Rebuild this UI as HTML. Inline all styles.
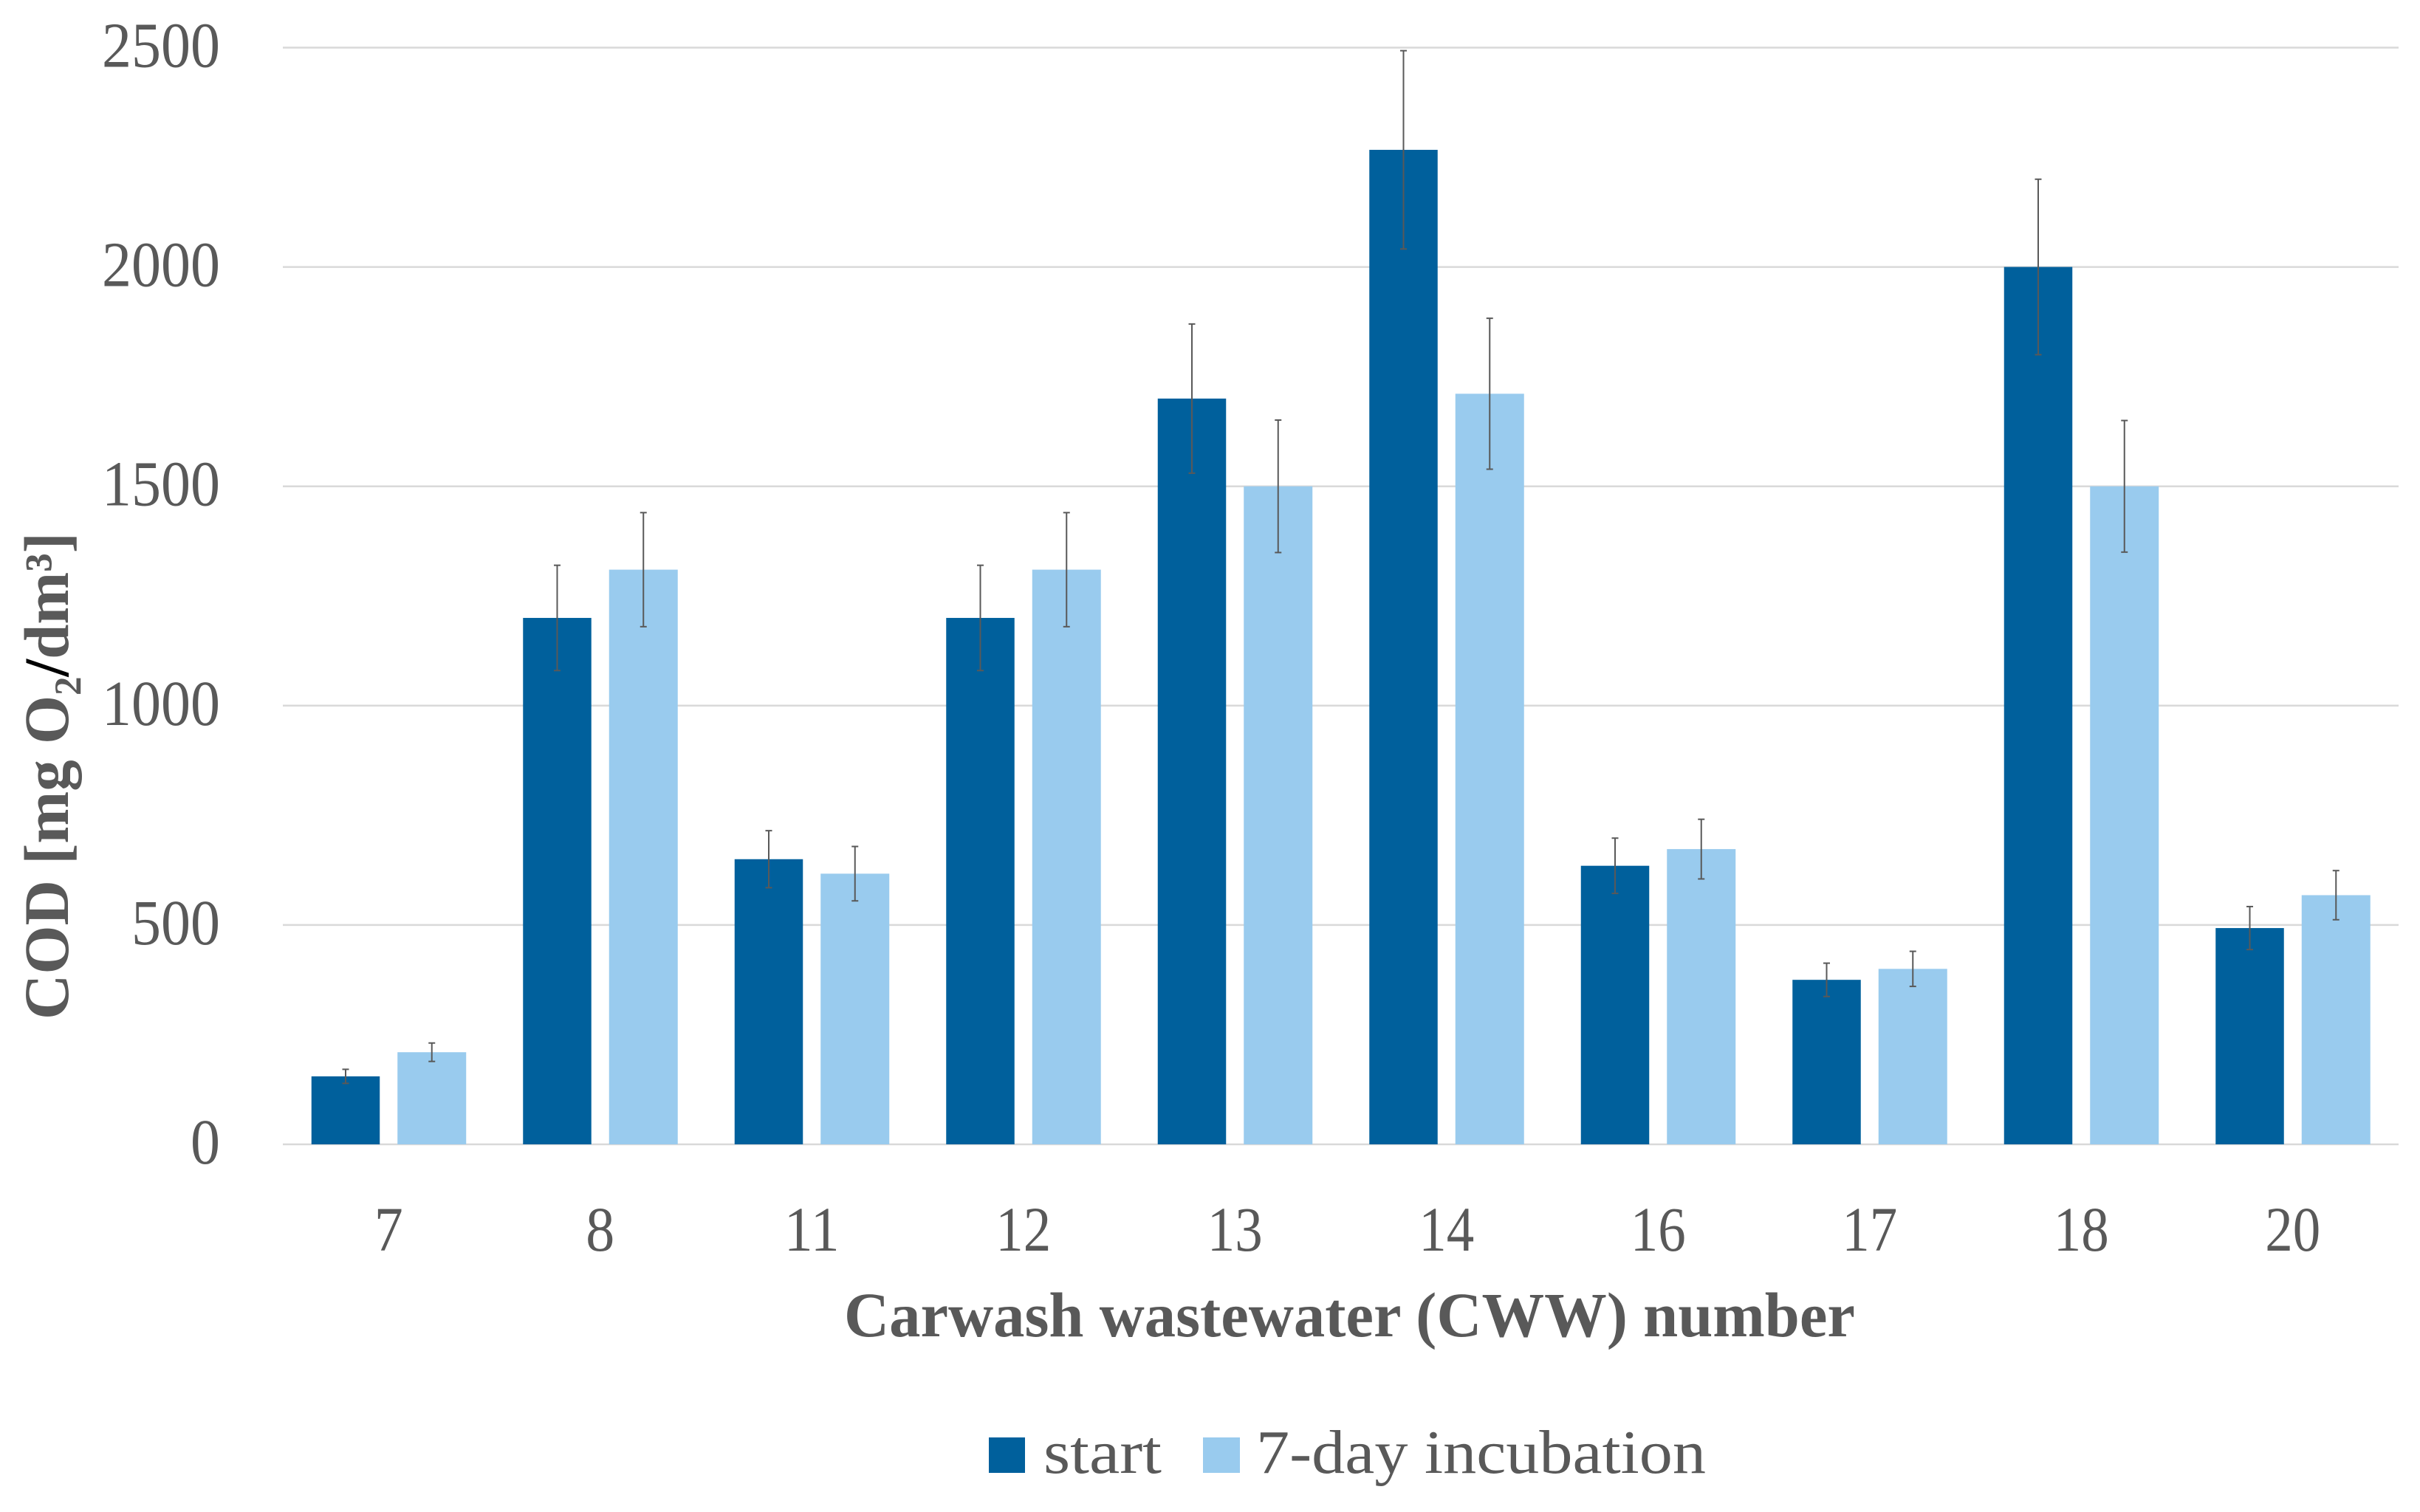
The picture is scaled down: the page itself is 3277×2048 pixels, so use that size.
<!DOCTYPE html>
<html lang="en">
<head>
<meta charset="utf-8">
<title>COD of carwash wastewater</title>
<style>
html,body{margin:0;padding:0;background:#fff;}
svg{display:block;}
text{font-family:"Liberation Serif","DejaVu Serif",serif;fill:#595959;}
</style>
</head>
<body>
<svg id="chart" xmlns="http://www.w3.org/2000/svg" width="3277" height="2048" viewBox="0 0 3277 2048">
  <rect x="0" y="0" width="3277" height="2048" fill="#ffffff"/>
  <g id="gridlines"></g>
  <g id="y-ticks"></g>
  <g id="x-ticks"></g>
  <g id="bars"></g>
  <g id="errors"></g>
  <text transform="translate(92 1381) rotate(-90)" font-size="86" font-weight="bold" textLength="660" lengthAdjust="spacingAndGlyphs">COD [mg O₂<tspan style="fill:#000000">/</tspan>dm³]</text>
  <text x="1143" y="1810" font-size="86" font-weight="bold" textLength="1369" lengthAdjust="spacingAndGlyphs">Carwash wastewater (CWW) number</text>
  <g>
    <rect x="1339" y="1947" width="49" height="48" fill="#00609C"/>
    <text x="1413" y="1995" font-size="84" textLength="160" lengthAdjust="spacingAndGlyphs">start</text>
    <rect x="1629" y="1947" width="50" height="48" fill="#99CBEE"/>
    <text x="1701" y="1995" font-size="84" textLength="609" lengthAdjust="spacingAndGlyphs">7-day incubation</text>
  </g>
</svg>
<script>
const categories = ['7', '8', '11', '12', '13', '14', '16', '17', '18', '20'];
const startValues = [155, 1200, 650, 1200, 1700, 2267, 635, 375, 2000, 493];
const incubationValues = [210, 1310, 617, 1310, 1500, 1711, 673, 400, 1500, 568];
const startErrors = [16, 120, 65, 120, 170, 226, 63, 38, 200, 49];
const incubationErrors = [21, 130, 62, 130, 151, 172, 68, 40, 150, 56];
const yTickValues = [0, 500, 1000, 1500, 2000, 2500];

const SVG_NS = 'http://www.w3.org/2000/svg';
const plotLeft = 383, plotRight = 3248, plotBottom = 1550, plotTop = 64.5, yMax = 2500;
const startBarWidth = 92.5, incubationBarWidth = 93, barOffset = 12;
const DARK = '#00609C', LIGHT = '#99CBEE', GRID = '#D9D9D9', ERR = '#595959';

function yScale(v) { return plotBottom - (v / yMax) * (plotBottom - plotTop); }
function xCenter(i) { return plotLeft + (i + 0.5) * (plotRight - plotLeft) / categories.length; }

function make(tag, attrs, parent) {
  const el = document.createElementNS(SVG_NS, tag);
  for (const k in attrs) el.setAttribute(k, attrs[k]);
  parent.appendChild(el);
  return el;
}

const gridG = document.getElementById('gridlines');
const yG = document.getElementById('y-ticks');
const xG = document.getElementById('x-ticks');
const barsG = document.getElementById('bars');
const errG = document.getElementById('errors');

yTickValues.forEach(function (t) {
  const y = yScale(t);
  const line = make('line', { x1: plotLeft, x2: plotRight, y1: y, y2: y, stroke: GRID, 'stroke-width': 2.5 }, gridG);
  
  
  const label = make('text', { x: 298, y: y + 26, 'text-anchor': 'end', 'font-size': 87, textLength: String(t).length * 40, lengthAdjust: 'spacingAndGlyphs' }, yG);
  
  
  label.textContent = t;
});

function drawBar(cat, value, x, width, fill, seriesName) {
  const top = yScale(value);
  const bar = make('rect', { x: x, y: top, width: width, height: plotBottom - top, fill: fill }, barsG);
  
  
}

function drawError(cat, value, err, cx, seriesName) {
  const hi = yScale(value + err), lo = yScale(value - err);
  const g = make('g', { stroke: ERR, 'stroke-width': 2, fill: 'none' }, errG);
  
  
  make('line', { x1: cx, x2: cx, y1: hi, y2: lo }, g);
  make('line', { x1: cx - 4.5, x2: cx + 4.5, y1: hi, y2: hi }, g);
  make('line', { x1: cx - 4.5, x2: cx + 4.5, y1: lo, y2: lo }, g);
}

categories.forEach(function (cat, i) {
  const c = xCenter(i);
  const startX = c - barOffset - startBarWidth;
  const incX = c + barOffset;
  drawBar(cat, startValues[i], startX, startBarWidth, DARK, 'start');
  drawBar(cat, incubationValues[i], incX, incubationBarWidth, LIGHT, 'incubation');
  drawError(cat, startValues[i], startErrors[i], startX + startBarWidth / 2, 'start');
  drawError(cat, incubationValues[i], incubationErrors[i], incX + incubationBarWidth / 2, 'incubation');
  const label = make('text', { x: c, y: 1694, 'text-anchor': 'middle', 'font-size': 86, textLength: cat.length === 1 ? 39 : 75, lengthAdjust: 'spacingAndGlyphs' }, xG);
  
  
  label.textContent = cat;
});
</script>
</body>
</html>
